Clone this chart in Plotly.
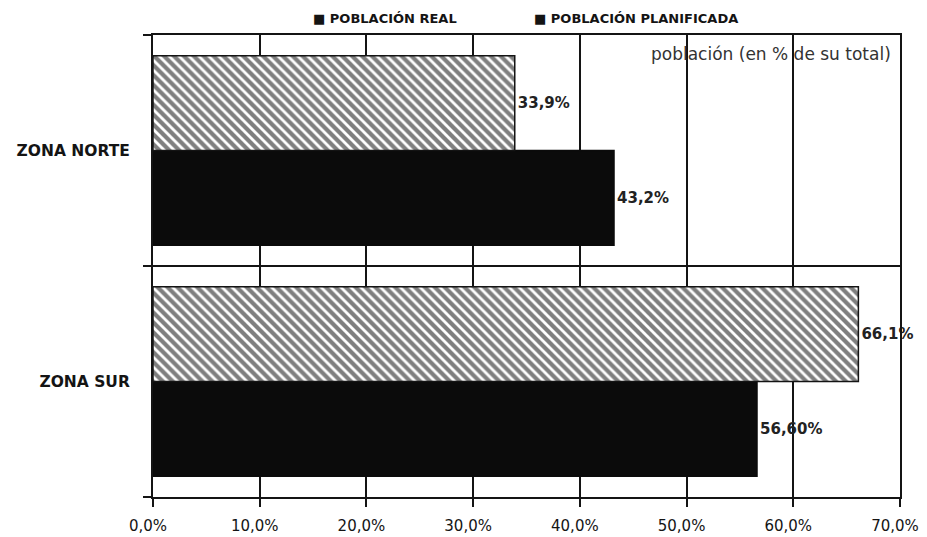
import plotly.graph_objects as go

categories = ["ZONA NORTE", "ZONA SUR"]
series_names = ["POBLACIÓN REAL", "POBLACIÓN PLANIFICADA"]
real_values = [43.2, 56.6]
real_labels = ["43,2%", "56,60%"]
plan_values = [33.9, 66.1]
plan_labels = ["33,9%", "66,1%"]
tick_vals = [0, 10, 20, 30, 40, 50, 60, 70]
tick_text = ["0,0%", "10,0%", "20,0%", "30,0%", "40,0%", "50,0%", "60,0%", "70,0%"]

SANS = "DejaVu Sans, Liberation Sans, Arial, sans-serif"
INK = "#141414"

fig = go.Figure()
fig.add_trace(go.Bar(
    name=series_names[0], y=categories, x=real_values, orientation="h",
    text=real_labels, textposition="outside", cliponaxis=False,
    textfont=dict(family=SANS, size=15, color="#222", weight="bold"),
    marker=dict(color="#0b0b0b", line=dict(color="#0b0b0b", width=1.5)),
    showlegend=False,
))
fig.add_trace(go.Bar(
    name=series_names[1], y=categories, x=plan_values, orientation="h",
    text=plan_labels, textposition="outside", cliponaxis=False,
    textfont=dict(family=SANS, size=15, color="#222", weight="bold"),
    marker=dict(color="white", line=dict(color=INK, width=1.5),
                pattern=dict(shape="\\", fgcolor="#000", bgcolor="white",
                             size=7, solidity=0.6)),
    showlegend=False,
))

# page body adds an 8px offset, so the figure is sized to fit the window
fig.update_layout(
    width=919, height=529,
    margin=dict(l=145, r=27, t=27, b=40, autoexpand=False),
    paper_bgcolor="white", plot_bgcolor="white",
    barmode="group", bargap=0.18, bargroupgap=0,
    font=dict(family=SANS, color=INK),
)

fig.update_xaxes(
    range=[0, 70], tickvals=tick_vals, ticktext=tick_text,
    showgrid=True, gridcolor=INK, gridwidth=2,
    showline=True, linecolor=INK, linewidth=2, mirror=True,
    ticks="outside", ticklen=8, tickwidth=2, tickcolor=INK,
    tickfont=dict(family=SANS, size=15, color=INK), zeroline=False,
    ticklabeloverflow="allow", ticklabelshift=-5, ticklabelstandoff=6,
)
fig.update_yaxes(
    categoryorder="array", categoryarray=["ZONA SUR", "ZONA NORTE"],
    showline=True, linecolor=INK, linewidth=2, mirror=True,
    ticks="outside", tickson="boundaries", ticklen=8, tickwidth=2, tickcolor=INK,
    showgrid=True, gridcolor=INK, gridwidth=2,
    tickfont=dict(family=SANS, size=15.5, color=INK, weight="bold"),
    ticklabelstandoff=18,
)

# legend drawn as text entries at the top
for name, xpos in zip(series_names, [0.211, 0.508]):
    fig.add_annotation(
        text="■ " + name, xref="paper", yref="paper",
        x=xpos, y=1.036, xanchor="left", yanchor="middle", showarrow=False,
        font=dict(family=SANS, size=13, color=INK, weight="bold"),
    )

fig.add_annotation(
    text="población (en % de su total)", xref="paper", yref="paper",
    x=0.99, y=0.985, xanchor="right", yanchor="top", showarrow=False,
    font=dict(family=SANS, size=17, color="#333"),
)

fig.write_html("out.html")
